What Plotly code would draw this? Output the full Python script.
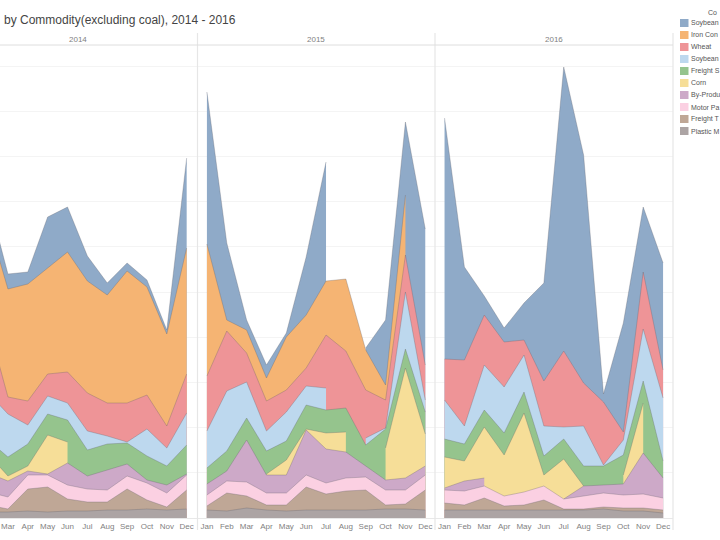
import numpy as np
import plotly.graph_objects as go

MONTHS = ["Jan","Feb","Mar","Apr","May","Jun","Jul","Aug","Sep","Oct","Nov","Dec"]
YEARS = ["2014","2015","2016"]
N = None

# Monthly tonnage per commodity (relative units), 2014 | 2015 | 2016
plastic = [6,6,6,7,6,7,7,8,8,9,8,9,  8,7,10,8,7,8,8,8,8,9,9,8,  8,8,8,8,8,8,8,8,9,7,7,5]
freight_t = [8,7,3,22,25,12,9,8,21,9,3,19,  4,18,12,5,6,23,16,19,20,4,5,20,  7,5,12,4,5,10,1,1,2,3,3,3]
motor = [13,13,12,14,12,14,13,12,13,17,14,15,  11,12,14,12,12,12,11,13,13,15,14,15,  13,14,12,10,13,14,10,13,14,13,14,12]
by_product = [18,19,16,4,1,22,13,20,12,3,8,1,  11,10,42,18,18,45,34,26,11,10,12,9,  2,10,8,N,N,N,0,10,8,11,41,20]
corn = [15,19,5,5,39,21,N,N,N,N,N,N,  N,N,N,1,15,1,16,20,N,32,110,32,  31,20,51,41,79,11,40,0,N,9,50,N]
freight_s = [15,14,19,22,21,22,26,26,21,24,19,29,  16,20,22,23,19,24,23,24,21,19,19,22,  18,17,17,22,21,19,20,20,19,20,22,17]
soy_meal = [40,47,43,19,18,17,19,8,1,27,18,32,  37,60,36,20,29,19,22,N,7,1,57,12,  39,18,45,46,37,30,12,40,1,15,52,63]
wheat = [50,69,17,24,22,31,38,33,39,34,22,39,  55,60,29,30,22,18,53,57,48,28,37,35,  41,66,50,45,15,45,76,43,63,8,57,28]
iron = [110,103,108,117,106,120,112,108,132,108,92,126,  132,11,23,23,53,53,54,72,40,15,60,N,  N,N,N,N,N,N,N,N,N,N,N,N]
soybeans = [40,23,15,12,51,45,25,12,8,7,4,90,  152,77,10,13,4,58,119,N,2,65,73,136,  241,93,19,14,37,98,284,228,8,109,65,107]

# Stack order, bottom first: (series name, values, colour, legend text as visible at the page edge)
COMMODITIES = [
    ("Plastic Materials", plastic, "#aca4a4", "Plastic M"),
    ("Freight Trains", freight_t, "#bfa796", "Freight T"),
    ("Motor Parts", motor, "#fbd0e2", "Motor Pa"),
    ("By-Products", by_product, "#cda9c8", "By-Produ"),
    ("Corn", corn, "#f6de98", "Corn"),
    ("Freight Shipments", freight_s, "#95c48d", "Freight S"),
    ("Soybean Meal", soy_meal, "#bdd8ee", "Soybean"),
    ("Wheat", wheat, "#ee9497", "Wheat"),
    ("Iron Concentrate", iron, "#f5b473", "Iron Con"),
    ("Soybeans", soybeans, "#8faac8", "Soybean"),
]

W, H = 720, 540
BASE, TOP = 518, 45
PANELS = [(0, 197, [1.6, 11.52]), (197, 435, [-0.5, 11.49]), (435, 673, [-0.48, 11.5])]
GRID = "#f4f4f4"
TXT = "#7f7f7f"

vals = np.array([np.array(c[1], dtype=float) for c in COMMODITIES])
cum = np.cumsum(np.nan_to_num(vals), axis=0)

fig = go.Figure()
# Painted from the top of the stack down, each band filled to the baseline.
# A gap in a series ends its area, so every unbroken run gets its own trace.
for i in reversed(range(len(COMMODITIES))):
    name, _, color, _ = COMMODITIES[i]
    for p in range(3):
        suffix = "" if p == 0 else str(p + 1)
        v = vals[i][p * 12:(p + 1) * 12]
        c = cum[i][p * 12:(p + 1) * 12]
        m = 0
        while m < 12:
            if np.isnan(v[m]):
                m += 1
                continue
            e = m
            while e + 1 < 12 and not np.isnan(v[e + 1]):
                e += 1
            fig.add_trace(go.Scatter(
                x=MONTHS[m:e + 1], y=c[m:e + 1].tolist(), name=name, mode="lines", fill="tozeroy", fillcolor=color,
                line=dict(color="rgba(95,95,105,0.5)", width=0.6),
                showlegend=False, xaxis="x" + suffix, yaxis="y" + suffix,
            ))
            m = e + 1

layout = dict(
    width=W, height=H, margin=dict(l=0, r=0, t=0, b=0, autoexpand=False),
    paper_bgcolor="white", plot_bgcolor="white", showlegend=False,
    font=dict(family="Liberation Sans"),
)
ydom = [(H - BASE) / H, (H - TOP) / H]
for p, (a, b, rng) in enumerate(PANELS):
    suffix = "" if p == 0 else str(p + 1)
    layout["xaxis" + suffix] = dict(
        domain=[a / W, b / W], range=rng, type="category",
        categoryorder="array", categoryarray=MONTHS, anchor="y" + suffix,
        showgrid=False, zeroline=False, ticks="", ticklen=0, showline=True, linecolor="#e8e8e8", linewidth=1,
        tickfont=dict(size=8, color=TXT, family="Liberation Sans"),
    )
    layout["yaxis" + suffix] = dict(
        domain=ydom, range=[0, BASE - TOP], anchor="x" + suffix, dtick=45.2,
        showgrid=True, gridcolor=GRID, gridwidth=1, zeroline=False, showticklabels=False, ticks="",
    )
fig.update_layout(**layout)

def px(x): return x / W
def py(y): return (H - y) / H

shapes, ann = [], []
for x in (197.5, 435, 673):
    shapes.append(dict(type="line", xref="paper", yref="paper", x0=px(x), x1=px(x), y0=py(33), y1=py(530),
                       line=dict(color="#e6e6e6", width=1.2)))
shapes.append(dict(type="line", xref="paper", yref="paper", x0=0, x1=px(673), y0=py(45), y1=py(45),
                   line=dict(color="#dedede", width=1)))

ann.append(dict(text="by Commodity(excluding coal), 2014 - 2016", x=px(2), y=py(20), xref="paper", yref="paper",
                xanchor="left", yanchor="middle", showarrow=False, font=dict(size=12, color="#444444")))
for yr, xc in zip(YEARS, (77.5, 315.7, 554)):
    ann.append(dict(text=yr, x=px(xc), y=py(39.5), xref="paper", yref="paper", xanchor="center", yanchor="middle",
                    showarrow=False, font=dict(size=8, color=TXT)))

ann.append(dict(text="Co", x=px(706), y=py(12.5), xref="paper", yref="paper", xanchor="left", yanchor="middle",
                showarrow=False, font=dict(size=7, color="#555555")))
for r, (name, _, color, label) in enumerate(reversed(COMMODITIES)):
    yc = 23 + 12 * r
    shapes.append(dict(type="rect", xref="paper", yref="paper", x0=px(680), x1=px(688.5), y0=py(yc - 4), y1=py(yc + 4),
                       fillcolor=color, line=dict(width=0)))
    ann.append(dict(text=label, x=px(689), y=py(yc), xref="paper", yref="paper", xanchor="left", yanchor="middle",
                    showarrow=False, font=dict(size=7, color="#555555")))

fig.update_layout(shapes=shapes, annotations=ann)
fig.write_html("out.html", config=dict(displayModeBar=False),
               post_script="document.body.style.margin='0';document.body.style.overflow='hidden';")
